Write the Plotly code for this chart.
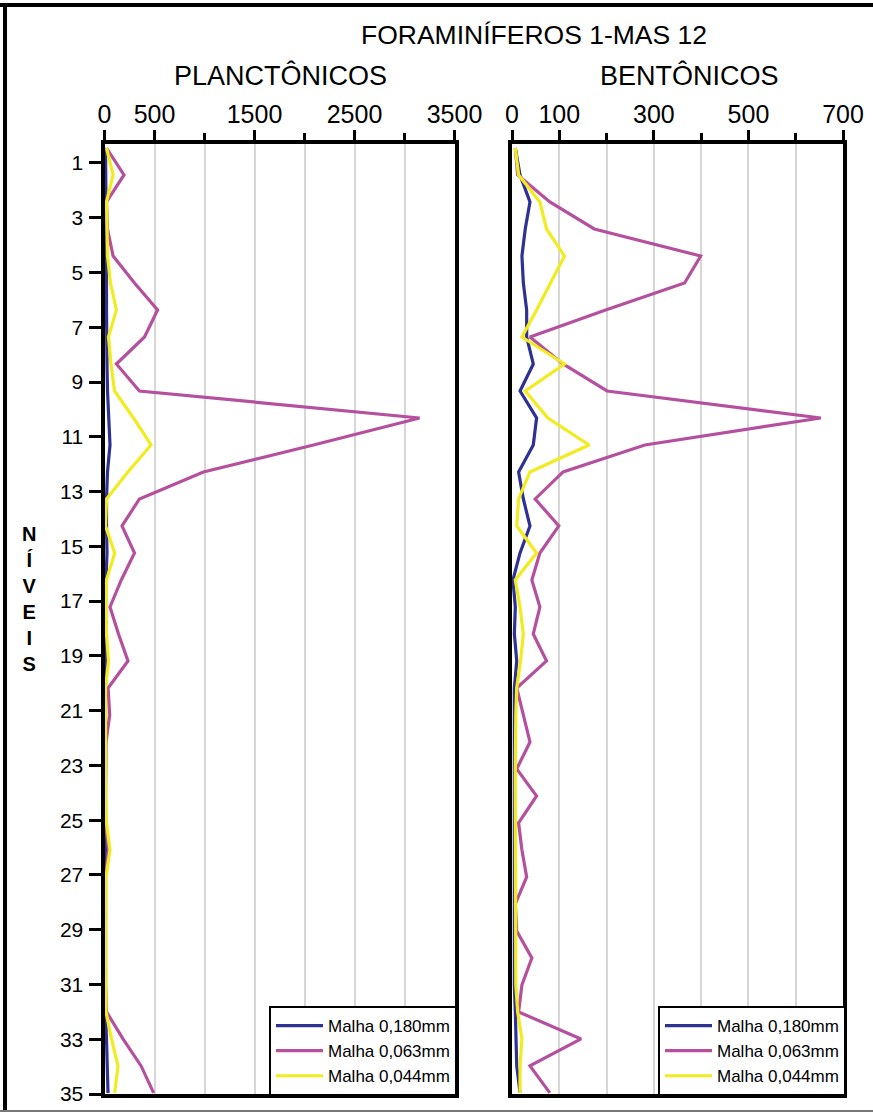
import plotly.graph_objects as go

W, H = 873, 1114


def px(x):
    return x / W


def py(y):
    return (H - y) / H


# ---------------- data ----------------
levels = list(range(36))  # sample positions, top (0) to bottom (35)
level_ticks = list(range(1, 36, 2))
level_labels = [str(v) for v in level_ticks]

series_names = ["Malha 0,180mm", "Malha 0,063mm", "Malha 0,044mm"]

planc_180 = [10, 15, 15, 15, 20, 20, 20, 20, 25, 30, 40, 55, 30, 20, 20, 25, 15, 10,
             15, 20, 10, 10, 5, 5, 5, 5, 5, 5, 5, 5, 5, 5, 10, 20, 30, 35]
planc_063 = [20, 195, 20, 30, 86, 300, 531, 400, 119, 349, 3151, 2090, 989, 349, 175,
             300, 168, 55, 140, 235, 36, 52, 15, 10, 10, 10, 40, 10, 10, 10, 10, 10,
             20, 185, 366, 491]
planc_044 = [20, 86, 20, 25, 30, 60, 119, 40, 65, 100, 290, 465, 234, 20, 10, 102, 20,
             15, 20, 40, 10, 10, 10, 10, 10, 20, 55, 15, 10, 10, 10, 10, 15, 70, 135, 102]

bent_180 = [7, 17, 38, 28, 21, 24, 31, 31, 45, 17, 52, 45, 14, 24, 38, 17, 2, 7, 5,
            10, 5, 5, 5, 5, 5, 5, 5, 5, 5, 5, 5, 5, 7, 8, 10, 17]
bent_063 = [7, 12, 80, 174, 399, 365, 198, 38, 108, 201, 653, 281, 108, 49, 99, 59,
            42, 59, 45, 73, 10, 24, 38, 10, 52, 14, 21, 31, 7, 10, 42, 21, 14, 146, 38, 80]
bent_044 = [7, 14, 59, 73, 111, 82, 52, 21, 111, 28, 76, 163, 38, 14, 10, 52, 7, 17,
            24, 18, 10, 8, 7, 7, 7, 7, 7, 7, 7, 7, 7, 8, 12, 21, 17, 17]

planc_ticks = [0, 500, 1500, 2500, 3500]
planc_minor = [1000, 2000, 3000]
bent_ticks = [0, 100, 300, 500, 700]
bent_minor = [200, 400, 600]

colors = ["#2e3192", "#b4509e", "#f2ec1f"]

SANS = "Liberation Sans, Arial, sans-serif"

# data-axis range (sample positions) and the range of the level-label scale
yrange = [35.04, -0.148]
label_range = [35.0, 0.308]


def label_to_axis(v):
    # convert a level label value into the data axis coordinate (linear map of ranges)
    return yrange[0] + (v - label_range[0]) * (yrange[1] - yrange[0]) / (label_range[1] - label_range[0])


fig = go.Figure()

for name, vals, col in zip(series_names, [planc_180, planc_063, planc_044], colors):
    fig.add_trace(go.Scatter(
        x=vals, y=levels, mode="lines", name=name,
        line=dict(color=col, width=3.2), xaxis="x", yaxis="y",
        legend="legend", legendgroup="p" + name,
    ))

for name, vals, col in zip(series_names, [bent_180, bent_063, bent_044], colors):
    fig.add_trace(go.Scatter(
        x=vals, y=levels, mode="lines", name=name,
        line=dict(color=col, width=3.2), xaxis="x2", yaxis="y2",
        legend="legend2", legendgroup="b" + name,
    ))

grid = "#d6d6d6"
LW = 4
ydom = [py(1094), py(144)]
left_dom = [px(102.5 + LW / 2), px(456.5 - LW / 2)]
right_dom = [px(510 + LW / 2), px(845 - LW / 2)]


def xaxis_cfg(dom, rng, ticks, minor):
    return dict(
        domain=dom, range=rng, side="top", automargin=False,
        tickmode="array", tickvals=ticks, ticktext=[str(t) for t in ticks],
        ticks="outside", ticklen=10, tickwidth=3, tickcolor="black",
        ticklabelstandoff=-3,
        showgrid=True, gridcolor=grid, gridwidth=1.5,
        minor=dict(tickvals=minor, ticks="outside", ticklen=7, tickwidth=3,
                   tickcolor="black", showgrid=True, gridcolor=grid, gridwidth=1.5),
        showline=True, linecolor="black", linewidth=LW, mirror=True,
        zeroline=False,
        tickfont=dict(family=SANS, size=25, color="black"),
    )


legend_common = dict(
    xanchor="right", yanchor="bottom",
    bgcolor="white", bordercolor="black", borderwidth=2,
    font=dict(family=SANS, size=17, color="black"),
    tracegroupgap=0, itemwidth=47,
)

fig.update_layout(
    width=W, height=H, autosize=False,
    margin=dict(l=0, r=0, t=0, b=0, pad=0, autoexpand=False),
    paper_bgcolor="white", plot_bgcolor="white",
    xaxis=dict(anchor="y", **xaxis_cfg(left_dom, [0, 3500], planc_ticks, planc_minor)),
    yaxis=dict(
        domain=ydom, range=yrange, anchor="x", automargin=False,
        tickmode="array", tickvals=[label_to_axis(v) for v in level_ticks],
        ticktext=level_labels,
        ticks="outside", ticklen=12, tickwidth=3, tickcolor="black",
        ticklabelstandoff=1,
        tickfont=dict(family=SANS, size=21, color="black"),
        showgrid=False, zeroline=False,
        showline=True, linecolor="black", linewidth=LW, mirror=True,
    ),
    xaxis2=dict(anchor="y2", **xaxis_cfg(right_dom, [0, 700], bent_ticks, bent_minor)),
    yaxis2=dict(
        domain=ydom, range=yrange, anchor="x2", automargin=False,
        showticklabels=False, ticks="", showgrid=False, zeroline=False,
        showline=True, linecolor="black", linewidth=LW, mirror=True,
    ),
    legend=dict(x=px(457), y=py(1096), **legend_common),
    legend2=dict(x=px(846), y=py(1096), **legend_common),
    showlegend=True,
)

annotations = [
    dict(text="FORAMINÍFEROS 1-MAS 12", x=px(534), y=py(35), size=26.5),
    dict(text="PLANCTÔNICOS", x=px(280), y=py(76), size=27),
    dict(text="BENTÔNICOS", x=px(689), y=py(76), size=27),
    dict(text="<b>N<br>Í<br>V<br>E<br>I<br>S</b>", x=px(29), y=py(599), size=20),
]
for a in annotations:
    fig.add_annotation(
        text=a["text"], x=a["x"], y=a["y"], xref="paper", yref="paper",
        showarrow=False, xanchor="center", yanchor="middle",
        font=dict(family=SANS, size=a["size"], color="black"),
    )

# outer frame of the figure
fig.add_shape(type="line", xref="paper", yref="paper", x0=0, x1=1,
              y0=py(5), y1=py(5), line=dict(color="black", width=4))
fig.add_shape(type="line", xref="paper", yref="paper", x0=px(5), x1=px(5),
              y0=py(3), y1=py(1111), line=dict(color="black", width=4))
fig.add_shape(type="line", xref="paper", yref="paper", x0=0, x1=1,
              y0=py(1111), y1=py(1111), line=dict(color="#777777", width=2))

fig.write_html("out.html")
